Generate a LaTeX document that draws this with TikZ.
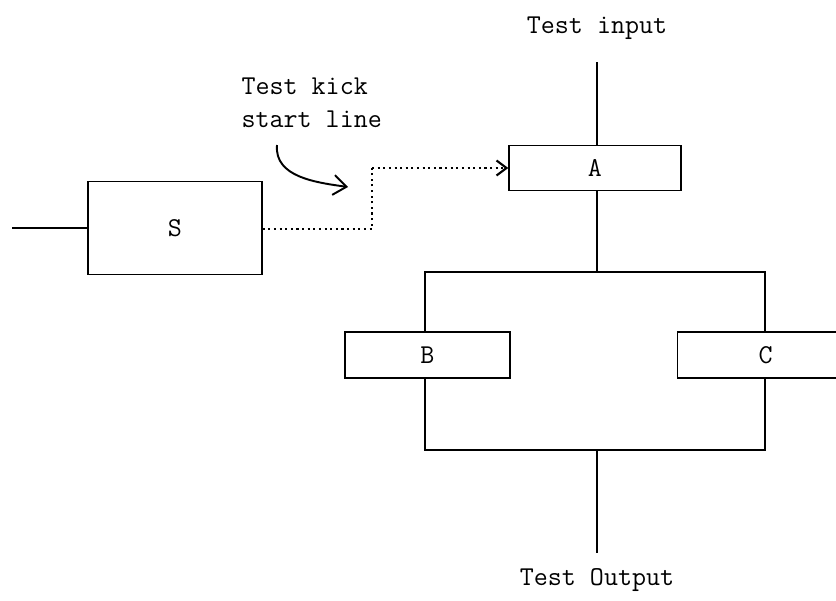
\documentclass[tikz,border=0pt]{standalone}
\usetikzlibrary{arrows.meta}
\begin{document}
\begin{tikzpicture}[>=latex, line width=0.8pt,
    bloco/.style={draw, rectangle, font=\ttfamily\fontsize{15.5}{19}\selectfont},
    rotulo/.style={font=\ttfamily\fontsize{15.5}{19}\selectfont}]
\useasboundingbox (0,0) rectangle (16.72,-12);
% Bloco S com entrada
\node[bloco, minimum width=3.48cm, minimum height=1.86cm] (S) at (3.5,-4.56) {S};
\coordinate (ent) at (0.24,-4.56);
\draw (ent) -- (S.west);
% Bloco A com entrada de teste
\node[bloco, minimum width=3.44cm, minimum height=0.9cm] (A) at (11.9,-3.36) {A};
\node[rotulo] (tin) at (11.94,-0.56) {Test input};
\coordinate (topo) at (11.94,-1.24);
\draw (topo) -- (topo |- A.north);
% Linha de partida (pontilhada)
\coordinate (dobra) at (7.44,-4.58);
\draw[dotted, line width=1.2pt] (S.east |- dobra) -- (dobra) -- (dobra |- A.west);
\draw[-{Straight Barb[length=2mm, width=3mm]}, dotted, line width=1.2pt] (dobra |- A.west) -- (A.west);
\node[rotulo, align=left, anchor=west] (kick) at (4.7,-2.05) {Test kick\\start line};
\coordinate (c1) at (5.54,-2.9);
\coordinate (c2) at (6.96,-3.74);
\draw[-{Straight Barb[length=2.6mm, width=4mm]}, line width=1.1pt] (c1) to[out=-95, in=172] (c2);
% Blocos B e C em paralelo
\node[bloco, minimum width=3.3cm, minimum height=0.92cm] (B) at (8.55,-7.1) {B};
\node[bloco, inner xsep=0pt, minimum height=0.92cm, anchor=west] (C) at (13.54,-7.1)
  {\hspace*{1.76cm}\makebox[0pt]{C}\hspace*{2cm}};
\coordinate (bs) at (11.94,-5.44);
\coordinate (bi) at (11.94,-9.0);
\draw (topo |- A.south) -- (bs);
\draw (B.north -| 8.5,0) |- (bs) -| (C.north -| 15.3,0);
\draw (B.south -| 8.5,0) |- (bi) -| (C.south -| 15.3,0);
% Saida de teste
\node[rotulo] (tout) at (11.94,-11.6) {Test Output};
\coordinate (base) at (11.94,-11.06);
\draw (bi) -- (base);
\end{tikzpicture}
\end{document}
